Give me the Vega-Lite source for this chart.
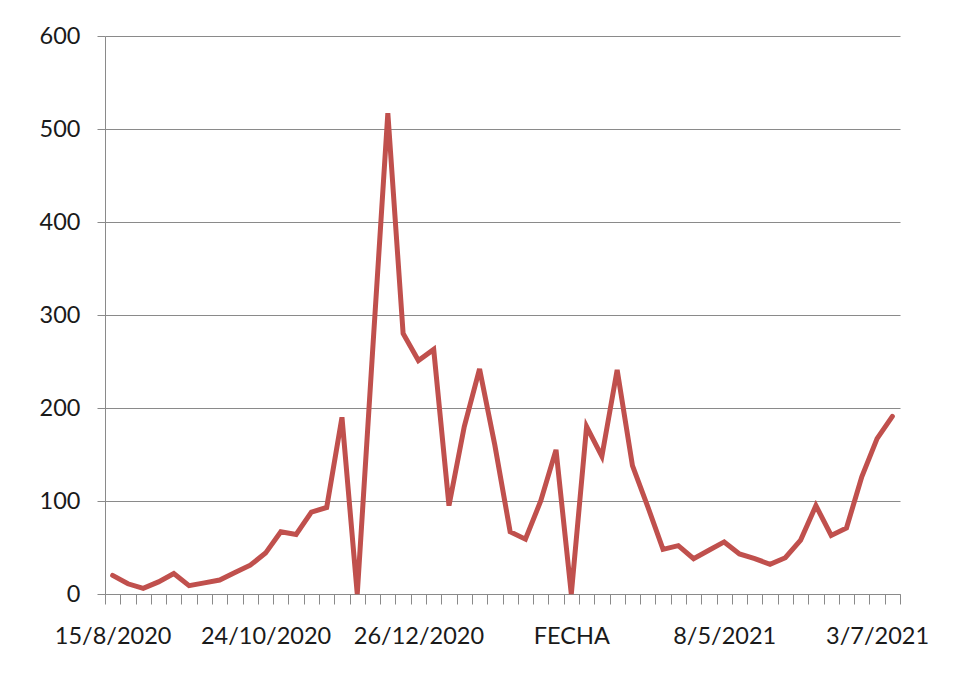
{
  "$schema": "https://vega.github.io/schema/vega-lite/v6.json",
  "autosize": "none",
  "padding": {"left": 105, "top": 36, "right": 58, "bottom": 82},
  "width": 795,
  "height": 558,
  "background": "white",
  "data": {
    "values": [
      {"fecha": "15/8/2020", "valor": 20},
      {"fecha": "22/8/2020", "valor": 11},
      {"fecha": "29/8/2020", "valor": 6},
      {"fecha": "5/9/2020", "valor": 13},
      {"fecha": "12/9/2020", "valor": 22},
      {"fecha": "19/9/2020", "valor": 9},
      {"fecha": "26/9/2020", "valor": 12},
      {"fecha": "3/10/2020", "valor": 15},
      {"fecha": "10/10/2020", "valor": 23},
      {"fecha": "17/10/2020", "valor": 31},
      {"fecha": "24/10/2020", "valor": 44},
      {"fecha": "31/10/2020", "valor": 67},
      {"fecha": "7/11/2020", "valor": 64},
      {"fecha": "14/11/2020", "valor": 88},
      {"fecha": "21/11/2020", "valor": 93},
      {"fecha": "28/11/2020", "valor": 190},
      {"fecha": "5/12/2020", "valor": 0},
      {"fecha": "12/12/2020", "valor": 260},
      {"fecha": "19/12/2020", "valor": 517},
      {"fecha": "22/12/2020", "valor": 280},
      {"fecha": "26/12/2020", "valor": 251},
      {"fecha": "2/1/2021", "valor": 263},
      {"fecha": "9/1/2021", "valor": 95},
      {"fecha": "16/1/2021", "valor": 180},
      {"fecha": "23/1/2021", "valor": 242},
      {"fecha": "30/1/2021", "valor": 160},
      {"fecha": "6/2/2021", "valor": 67},
      {"fecha": "13/2/2021", "valor": 59},
      {"fecha": "20/2/2021", "valor": 100},
      {"fecha": "27/2/2021", "valor": 155},
      {"fecha": "FECHA", "valor": 0},
      {"fecha": "6/3/2021", "valor": 180},
      {"fecha": "13/3/2021", "valor": 148},
      {"fecha": "20/3/2021", "valor": 241},
      {"fecha": "27/3/2021", "valor": 138},
      {"fecha": "3/4/2021", "valor": 94},
      {"fecha": "10/4/2021", "valor": 48},
      {"fecha": "17/4/2021", "valor": 52},
      {"fecha": "24/4/2021", "valor": 38},
      {"fecha": "1/5/2021", "valor": 47},
      {"fecha": "8/5/2021", "valor": 56},
      {"fecha": "15/5/2021", "valor": 43},
      {"fecha": "22/5/2021", "valor": 38},
      {"fecha": "29/5/2021", "valor": 32},
      {"fecha": "5/6/2021", "valor": 39},
      {"fecha": "12/6/2021", "valor": 58},
      {"fecha": "15/6/2021", "valor": 95},
      {"fecha": "19/6/2021", "valor": 63},
      {"fecha": "22/6/2021", "valor": 71},
      {"fecha": "26/6/2021", "valor": 126},
      {"fecha": "3/7/2021", "valor": 167},
      {"fecha": "10/7/2021", "valor": 191}
    ]
  },
  "mark": {"type": "line", "color": "#C0504D", "strokeWidth": 5, "strokeJoin": "miter", "strokeCap": "round"},
  "encoding": {
    "x": {
      "field": "fecha",
      "type": "ordinal",
      "sort": null,
      "scale": {"type": "band", "paddingInner": 0, "paddingOuter": 0},
      "axis": {
        "title": null,
        "grid": false,
        "tickBand": "extent",
        "tickSize": 10,
        "tickColor": "#8a8a8a",
        "domainColor": "#8a8a8a",
        "labelAngle": 0,
        "labelOverlap": false,
        "labelBound": false,
        "labelFlush": false,
        "labelPadding": 20,
        "labelFont": "Lato",
        "labelFontSize": 23.5,
        "labelColor": "#1a1a1a",
        "labelExpr": "indexof(['15/8/2020','24/10/2020','26/12/2020','FECHA','8/5/2021','3/7/2021'], datum.label) >= 0 ? datum.label : ''"
      }
    },
    "y": {
      "field": "valor",
      "type": "quantitative",
      "scale": {"domain": [0, 600], "nice": false, "zero": true},
      "axis": {
        "title": null,
        "values": [0, 100, 200, 300, 400, 500, 600],
        "grid": true,
        "gridColor": "#8a8a8a",
        "gridWidth": 1.2,
        "tickSize": 8,
        "tickColor": "#8a8a8a",
        "domainColor": "#8a8a8a",
        "labelPadding": 17,
        "labelFont": "Lato",
        "labelFontSize": 23.5,
        "labelColor": "#1a1a1a"
      }
    }
  },
  "config": {"view": {"stroke": null}}
}
